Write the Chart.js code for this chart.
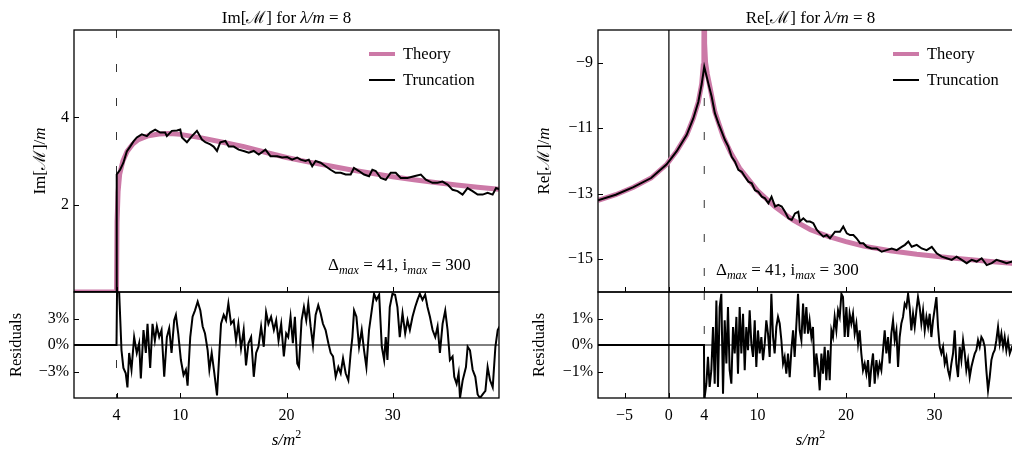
<!DOCTYPE html>
<html>
<head>
<meta charset="utf-8">
<script src="https://cdn.jsdelivr.net/npm/chart.js@4.4.0/dist/chart.umd.min.js"></script>
<style>
  html, body { margin: 0; padding: 0; background: #fff; overflow: hidden; width: 1012px; height: 450px; }
  canvas { position: absolute; top: 0; }
  #imChart { left: 0; }
  #reChart { left: 505px; }
</style>
</head>
<body>
<canvas id="imChart" width="505" height="450"></canvas>
<canvas id="reChart" width="530" height="450"></canvas>
<script>
// ---- data: [s/m^2, value] ----
var imTheory = [[0,0],[4,0],[4.05,1.6],[4.15,2.3],[4.3,2.7],[4.6,3.0],[5,3.22],[5.5,3.38],[6,3.48],[7,3.58],[8,3.62],[9,3.63],[10,3.61],[12,3.53],[14,3.43],[16,3.33],[18,3.2],[20,3.08],[22,2.98],[24,2.89],[26,2.8],[28,2.72],[30,2.64],[32,2.57],[34,2.51],[36,2.45],[38,2.4],[40,2.35]];

var imTrunc = [[0,0],[4,0],[4.02,2.69],[4.34,2.8],[4.65,2.96],[4.97,3.22],[5.28,3.33],[5.6,3.45],[5.91,3.54],[6.38,3.61],[6.86,3.57],[7.17,3.65],[7.64,3.72],[8.11,3.65],[8.58,3.65],[8.74,3.57],[9.21,3.69],[9.69,3.7],[10.0,3.72],[10.16,3.54],[10.63,3.43],[11.1,3.57],[11.57,3.69],[12.04,3.49],[12.36,3.43],[12.83,3.38],[13.14,3.33],[13.46,3.23],[13.77,3.43],[14.25,3.46],[14.56,3.33],[15.03,3.33],[15.5,3.26],[15.97,3.23],[16.45,3.19],[16.92,3.23],[17.39,3.15],[18.02,3.26],[18.49,3.11],[19.12,3.11],[19.59,3.08],[20.06,3.09],[20.53,3.03],[21.0,3.08],[21.32,3.03],[21.79,3.0],[22.1,3.03],[22.42,2.88],[22.74,3.0],[23.21,2.96],[23.68,2.88],[24.15,2.8],[24.62,2.73],[25.1,2.73],[25.57,2.69],[26.04,2.69],[26.35,2.84],[26.82,2.77],[27.3,2.69],[27.77,2.65],[28.08,2.8],[28.4,2.77],[28.87,2.61],[29.34,2.57],[29.81,2.73],[30.28,2.73],[30.75,2.61],[31.38,2.61],[32.01,2.65],[32.64,2.69],[33.11,2.57],[33.74,2.5],[34.21,2.5],[34.68,2.53],[35.16,2.46],[35.63,2.34],[36.1,2.31],[36.57,2.23],[37.04,2.38],[37.51,2.31],[37.99,2.23],[38.46,2.23],[38.93,2.27],[39.4,2.23],[39.72,2.38],[40.19,2.34]];

var imResid = [[0,0],[4,0],[4.05,6],[4.25,6],[4.47,-0.6],[4.65,-2.6],[4.87,-3.2],[5.03,-4.8],[5.19,-0.9],[5.41,-2.8],[5.66,0.9],[5.91,-0.9],[6.13,0.2],[6.29,-3.8],[6.54,1.7],[6.76,-0.9],[6.92,2.4],[7.17,-2.6],[7.39,2.4],[7.61,0.5],[7.8,2.1],[8.02,0.9],[8.24,1.7],[8.49,-3.6],[8.74,0.9],[8.96,1.9],[9.18,-0.9],[9.43,2.8],[9.59,3.4],[9.81,1.3],[10.06,-1.7],[10.31,-3.4],[10.53,-2.8],[10.69,-4.6],[10.94,0.9],[11.16,3.2],[11.38,3.9],[11.64,4.9],[11.89,3.9],[12.11,2.1],[12.33,1.3],[12.58,-0.6],[12.74,-2.8],[12.96,-0.9],[13.21,-3.2],[13.46,-5.7],[13.68,-0.9],[13.84,2.4],[14.09,3.4],[14.31,2.8],[14.53,4.7],[14.78,2.4],[15.03,2.8],[15.25,0.5],[15.47,2.4],[15.72,-0.4],[15.97,1.7],[16.19,-2.3],[16.42,0.2],[16.67,0.9],[16.92,-3.6],[17.14,-0.9],[17.36,-0.2],[17.61,2.1],[17.86,-0.2],[18.08,3.7],[18.3,2.4],[18.55,3.2],[18.81,1.7],[19.03,2.8],[19.25,0.5],[19.5,2.4],[19.75,-1.3],[19.97,1.3],[20.16,0.9],[20.38,3.2],[20.6,0.2],[20.79,3.2],[21.01,-2.1],[21.17,-2.5],[21.42,2.8],[21.64,4.3],[21.86,2.8],[22.05,4.7],[22.27,2.1],[22.49,0],[22.74,3.4],[22.99,4.5],[23.21,3.6],[23.43,2.4],[23.68,1.7],[23.94,0.2],[24.16,-0.9],[24.38,-1.3],[24.63,-3.6],[24.88,-2.5],[25.1,-3.2],[25.32,-1.5],[25.57,-3.2],[25.82,-4.0],[26.04,-0.9],[26.2,0.9],[26.36,3.9],[26.58,3.2],[26.83,-0.2],[27.08,1.7],[27.3,-0.6],[27.52,-2.5],[27.77,1.7],[28.02,3.9],[28.24,5.8],[28.46,5.1],[28.72,5.7],[28.97,-0.2],[29.19,-1.7],[29.34,0.9],[29.5,-1.7],[29.72,4.3],[29.97,5.8],[30.22,5.7],[30.44,4.3],[30.66,0.9],[30.92,3.6],[31.17,1.3],[31.39,2.8],[31.61,1.7],[31.86,3.2],[32.11,4.3],[32.33,5.1],[32.55,5.8],[32.8,5.1],[33.05,5.7],[33.27,4.3],[33.5,3.2],[33.75,1.7],[34.0,0.9],[34.22,2.1],[34.44,-0.9],[34.69,2.4],[34.94,3.9],[35.16,1.7],[35.38,-1.7],[35.63,-1.3],[35.79,-3.6],[36.01,-4.4],[36.2,-3.2],[36.33,-6.0],[36.58,-4.0],[36.89,-2.5],[37.05,-0.2],[37.27,-0.6],[37.52,-2.8],[37.77,-3.6],[37.99,-5.6],[38.21,-6.0],[38.46,-5.6],[38.72,-5.2],[38.93,-2.5],[39.16,-4.0],[39.41,-4.8],[39.66,-0.2],[39.88,1.7],[40.2,2.4]];

var reTheory = [[-8,-13.2],[-6,-13.03],[-4,-12.8],[-2,-12.52],[-0.24,-12.1],[0.89,-11.7],[2.02,-11.2],[2.76,-10.7],[3.33,-10.2],[3.71,-9.65],[3.88,-9.1],[3.96,-8.4],[4,-6],[4.04,-8.4],[4.15,-9.0],[4.35,-9.35],[4.65,-9.75],[5.2,-10.5],[6.15,-11.26],[7,-11.75],[8,-12.22],[10,-12.9],[12,-13.4],[14,-13.8],[16,-14.1],[18,-14.3],[20,-14.46],[22,-14.6],[25,-14.74],[28,-14.85],[32,-14.96],[36,-15.06],[40,-15.15]];

var reTrunc = [[-8,-13.2],[-6,-13.03],[-4,-12.8],[-2,-12.52],[-0.24,-12.1],[0.89,-11.7],[2.02,-11.2],[2.76,-10.7],[3.33,-10.2],[3.71,-9.65],[4.0,-9.12],[4.46,-9.63],[4.84,-10.04],[5.2,-10.54],[5.6,-10.85],[5.97,-11.1],[6.34,-11.36],[6.72,-11.56],[7.1,-11.87],[7.47,-12.02],[7.85,-12.27],[8.23,-12.33],[8.6,-12.48],[8.98,-12.63],[9.36,-12.68],[9.73,-12.89],[10.1,-12.94],[10.5,-13.09],[10.86,-13.14],[11.24,-13.29],[11.6,-13.09],[12.0,-13.39],[12.36,-13.34],[12.75,-13.39],[13.12,-13.55],[13.5,-13.75],[13.88,-13.8],[14.25,-13.6],[14.62,-13.55],[14.8,-13.85],[15.19,-13.75],[15.57,-13.85],[15.94,-13.85],[16.32,-13.9],[16.7,-14.1],[17.07,-14.21],[17.45,-14.31],[17.83,-14.26],[18.2,-14.36],[18.77,-14.16],[19.33,-14.16],[19.7,-14.0],[20.1,-14.21],[20.46,-14.26],[20.84,-14.26],[21.2,-14.36],[21.6,-14.51],[21.97,-14.51],[22.35,-14.62],[22.9,-14.67],[23.48,-14.67],[24.04,-14.77],[24.6,-14.72],[25.17,-14.67],[25.74,-14.72],[26.3,-14.62],[26.67,-14.56],[27.05,-14.46],[27.43,-14.62],[28.0,-14.56],[28.56,-14.67],[29.12,-14.72],[29.7,-14.62],[30.25,-14.82],[30.82,-14.92],[31.38,-14.97],[31.95,-15.02],[32.5,-14.92],[33.08,-15.02],[33.64,-15.12],[34.2,-15.02],[34.77,-15.07],[35.33,-14.97],[35.9,-15.18],[36.47,-15.12],[37.0,-15.02],[37.6,-15.07],[38.15,-15.12],[38.76,-15.07],[40,-15.1]];

var reResid = [[-8,0],[3.97,0],[4.0,-2.0],[4.05,-1.96],[4.24,-1.46],[4.42,-0.45],[4.61,-1.58],[4.8,-0.95],[4.99,0.68],[5.18,-1.46],[5.37,1.68],[5.55,-1.58],[5.74,1.43],[5.93,1.93],[6.12,-1.84],[6.31,0.93],[6.5,-0.7],[6.68,1.43],[6.87,-0.95],[7.06,-1.46],[7.25,0.68],[7.44,-0.32],[7.63,1.06],[7.81,-1.08],[8.0,1.43],[8.19,-0.32],[8.38,1.18],[8.57,-0.95],[8.75,0.68],[8.94,-0.2],[9.13,1.31],[9.32,0.05],[9.51,-0.45],[9.7,0.93],[9.88,-0.83],[10.07,0.55],[10.26,-0.32],[10.45,0.3],[10.64,-0.57],[10.83,0.05],[11.01,0.93],[11.2,0.43],[11.39,-0.45],[11.58,1.93],[11.77,0.3],[11.95,-0.32],[12.14,0.68],[12.33,1.06],[12.52,0.81],[12.71,0.18],[12.9,-0.7],[13.08,-0.45],[13.27,-1.08],[13.46,-0.32],[13.65,-1.21],[13.84,-0.2],[14.03,0.55],[14.21,-0.45],[14.59,1.93],[14.78,0.55],[14.97,0.18],[15.16,1.56],[15.34,0.43],[15.53,1.43],[15.72,0.43],[15.9,0.93],[16.1,0.3],[16.28,0.68],[16.47,-1.21],[16.66,-0.32],[16.85,-0.83],[17.04,-1.71],[17.23,-0.32],[17.41,-1.08],[17.6,-0.07],[17.79,-1.33],[17.98,-0.2],[18.17,-1.33],[18.36,0.55],[18.54,0.3],[18.73,1.06],[18.92,0.55],[19.11,1.31],[19.3,1.06],[19.49,1.93],[19.67,1.81],[19.86,0.3],[20.05,1.43],[20.24,0.3],[20.42,1.18],[20.61,0.81],[20.8,1.18],[20.99,0.43],[21.18,0.81],[21.37,0.05],[21.55,0.55],[21.74,-0.32],[21.93,-0.95],[22.12,-0.7],[22.31,-1.08],[22.5,-0.57],[22.68,-1.58],[22.87,-0.83],[23.06,-0.32],[23.25,-1.46],[23.44,-0.57],[23.63,-1.08],[23.81,-0.7],[24.0,-0.95],[24.19,-0.2],[24.38,0.55],[24.57,-0.32],[24.76,0.3],[24.94,-0.7],[25.13,0.43],[25.32,0.93],[25.51,0.18],[25.7,0.55],[25.89,-0.83],[26.07,0.3],[26.26,0.81],[26.45,1.06],[26.64,1.56],[26.83,1.43],[27.02,1.93],[27.2,1.43],[27.39,0.55],[27.58,1.18],[27.77,0.68],[27.96,1.31],[28.14,1.81],[28.33,1.43],[28.52,0.81],[28.71,1.31],[28.9,0.55],[29.09,1.06],[29.28,0.68],[29.46,1.18],[29.65,0.3],[29.84,0.93],[30.22,1.81],[30.4,0.68],[30.59,-0.07],[30.78,-0.32],[30.97,-0.07],[31.16,-0.7],[31.35,-0.45],[31.53,-0.95],[31.72,-1.21],[31.91,-0.7],[32.1,-0.32],[32.29,0.55],[32.47,-0.7],[32.66,-1.21],[32.85,-0.07],[33.04,-0.57],[33.23,0.18],[33.42,-0.32],[33.6,-0.95],[33.79,-0.57],[33.98,-1.21],[34.17,-0.83],[34.36,-0.57],[34.55,-0.32],[34.73,-0.2],[34.92,0.18],[35.11,-0.07],[35.3,0.3],[35.49,0.18],[35.68,-0.07],[35.86,-0.95],[36.05,-1.71],[36.24,-1.21],[36.43,-0.57],[36.62,-0.32],[36.8,-0.2],[36.99,0.18],[37.18,0.68],[37.37,0.05],[37.56,0.43],[37.75,-0.07],[37.93,0.3],[38.12,-0.2],[38.31,0.18],[38.5,-0.32],[38.76,-0.07],[40,0.1]];

var imXTicks = [4, 10, 20, 30];
var imYTicks = [2, 4];
var imRTicks = [-3, 0, 3];
var reXTicks = [-5, 0, 4, 10, 20, 30];
var reYTicks = [-15, -13, -11, -9];
var reRTicks = [-1, 0, 1];

var PINK = '#cc79a7';
var SERIF = '"Liberation Serif", "DejaVu Serif", serif';

function pts(list) {
  return list.map(function (p) { return { x: p[0], y: p[1] }; });
}
function minus(v) {
  return String(v).replace('-', '\u2212');
}

// rich text: parts are [text, kind]; kind '' upright, 'i' italic, 'sub' small italic lowered, 'sup' small raised
function drawRich(ctx, parts, x, y, size, opts) {
  opts = opts || {};
  function font(k) {
    if (k === 'i') return 'italic ' + size + 'px ' + SERIF;
    if (k === 'sub') return 'italic ' + Math.round(size * 0.72) + 'px ' + SERIF;
    if (k === 'sup') return Math.round(size * 0.72) + 'px ' + SERIF;
    return size + 'px ' + SERIF;
  }
  var w = 0;
  parts.forEach(function (p) { ctx.font = font(p[1]); w += ctx.measureText(p[0]).width; });
  ctx.save();
  ctx.translate(x, y);
  if (opts.rotate) ctx.rotate(-Math.PI / 2);
  ctx.fillStyle = '#000';
  ctx.textAlign = 'left';
  ctx.textBaseline = 'middle';
  var px = opts.left ? 0 : -w / 2;
  parts.forEach(function (p) {
    ctx.font = font(p[1]);
    var dy = p[1] === 'sub' ? size * 0.3 : (p[1] === 'sup' ? -size * 0.35 : 0);
    ctx.fillText(p[0], px, dy);
    px += ctx.measureText(p[0]).width;
  });
  ctx.restore();
}

var panelPlugin = {
  id: 'panel',
  afterDraw: function (chart, args, o) {
    var ctx = chart.ctx;
    var x = chart.scales.x, m = chart.scales.y, r = chart.scales.yRes;
    ctx.save();
    ctx.strokeStyle = '#000';
    ctx.lineWidth = 1.3;
    ctx.strokeRect(x.left, m.top, x.right - x.left, m.bottom - m.top);
    ctx.strokeRect(x.left, r.top, x.right - x.left, r.bottom - r.top);

    // inward tick marks
    ctx.lineWidth = 1;
    ctx.beginPath();
    x.ticks.forEach(function (t) {
      var px = Math.round(x.getPixelForValue(t.value)) + 0.5;
      ctx.moveTo(px, m.bottom); ctx.lineTo(px, m.bottom - 5);
      ctx.moveTo(px, r.bottom); ctx.lineTo(px, r.bottom - 5);
    });
    [m, r].forEach(function (s) {
      s.ticks.forEach(function (t) {
        var py = Math.round(s.getPixelForValue(t.value)) + 0.5;
        ctx.moveTo(x.left, py); ctx.lineTo(x.left + 5, py);
      });
    });
    ctx.stroke();

    // legend
    var lx = x.left + 295;
    ctx.lineCap = 'butt';
    ctx.strokeStyle = PINK; ctx.lineWidth = 4;
    ctx.beginPath(); ctx.moveTo(lx, 54); ctx.lineTo(lx + 26, 54); ctx.stroke();
    ctx.strokeStyle = '#000'; ctx.lineWidth = 2;
    ctx.beginPath(); ctx.moveTo(lx, 80); ctx.lineTo(lx + 26, 80); ctx.stroke();
    ctx.restore();
    drawRich(ctx, [['Theory', '']], lx + 34, 55, 16.5, { left: true });
    drawRich(ctx, [['Truncation', '']], lx + 34, 81, 16.5, { left: true });

    var cx = x.left + 212.5;
    drawRich(ctx, o.title, cx, 19, 17);
    drawRich(ctx, [['s/m', 'i'], ['2', 'sup']], cx, 441, 17);
    drawRich(ctx, o.ylabel, x.left - o.yOff, (m.top + m.bottom) / 2, 17, { rotate: true });
    drawRich(ctx, [['Residuals', '']], x.left - o.rOff, (r.top + r.bottom) / 2, 16.5, { rotate: true });
    drawRich(ctx, [['\u0394', ''], ['max', 'sub'], [' = 41, i', ''], ['max', 'sub'], [' = 300', '']],
      x.left + o.noteX, o.noteY, 17, { left: true });
  }
};

// each dataset is clipped to the area of its own axis pair
function vline(xv, y0, y1, axis, dash, color) {
  return {
    data: [{ x: xv, y: y1 }, { x: xv, y: y0 }], yAxisID: axis,
    borderColor: color, borderWidth: 1, borderDash: dash, pointRadius: 0,
    order: 3, clip: 0
  };
}

function makeChart(id, cfg) {
  var datasets = [
    { data: pts(cfg.trunc), yAxisID: 'y', borderColor: '#000', borderWidth: 2, pointRadius: 0, order: 1, clip: 0 },
    { data: pts(cfg.theory), yAxisID: 'y', borderColor: PINK, borderWidth: 5, pointRadius: 0, order: 2, clip: 0 },
    { data: pts(cfg.resid), yAxisID: 'yRes', borderColor: '#000', borderWidth: 2, pointRadius: 0, order: 1, clip: 0 },
    { data: [{ x: cfg.xMin, y: 0 }, { x: cfg.xMax, y: 0 }], yAxisID: 'yRes', borderColor: '#000', borderWidth: 1, pointRadius: 0, order: 3, clip: 0 },
    vline(4, cfg.yMin, cfg.yMax, 'y', [8, 26], '#333'),
    vline(4, -cfg.rMax, cfg.rMax, 'yRes', [8, 26], '#333')
  ];
  if (cfg.zeroLine) {
    datasets.push(vline(0, cfg.yMin, cfg.yMax, 'y', [], '#444'));
    datasets.push(vline(0, -cfg.rMax, cfg.rMax, 'yRes', [], '#444'));
  }
  var tickFont = { family: SERIF, size: 16 };
  function setTicks(list) {
    return function (s) { s.ticks = list.map(function (v) { return { value: v }; }); };
  }
  return new Chart(document.getElementById(id), {
    type: 'line',
    data: { datasets: datasets },
    plugins: [panelPlugin],
    options: {
      responsive: false,
      animation: false,
      events: [],
      layout: { padding: { left: 0, top: 30, right: cfg.padRight, bottom: 0 } },
      elements: { line: { tension: 0 } },
      plugins: {
        legend: { display: false },
        tooltip: { enabled: false },
        panel: cfg.panel
      },
      scales: {
        // residual axis listed first so that it is stacked below the main axis
        yRes: {
          axis: 'y', type: 'linear', position: 'left', stack: 'panel', stackWeight: 106,
          min: -cfg.rMax, max: cfg.rMax,
          grid: { display: false, drawTicks: false }, border: { display: false },
          ticks: { autoSkip: false, padding: 5, color: '#000', font: tickFont,
            callback: function (v) { return minus(v) + '%'; } },
          afterBuildTicks: setTicks(cfg.rTicks),
          afterFit: function (s) { s.width = cfg.axisW; }
        },
        y: {
          axis: 'y', type: 'linear', position: 'left', stack: 'panel', stackWeight: 262,
          min: cfg.yMin, max: cfg.yMax,
          grid: { display: false, drawTicks: false }, border: { display: false },
          ticks: { autoSkip: false, padding: 5, color: '#000', font: tickFont, callback: minus },
          afterBuildTicks: setTicks(cfg.yTicks),
          afterFit: function (s) { s.width = cfg.axisW; }
        },
        x: {
          type: 'linear', min: cfg.xMin, max: cfg.xMax,
          grid: { display: false, drawTicks: false }, border: { display: false },
          ticks: { autoSkip: false, padding: 8, color: '#000', font: tickFont, maxRotation: 0, callback: minus },
          afterBuildTicks: setTicks(cfg.xTicks),
          afterFit: function (s) { s.height = 52; }
        }
      }
    }
  });
}

makeChart('imChart', {
  trunc: imTrunc, theory: imTheory, resid: imResid,
  xMin: 0, xMax: 40, yMin: 0, yMax: 6, rMax: 6,
  xTicks: imXTicks, yTicks: imYTicks, rTicks: imRTicks,
  axisW: 74, padRight: 6, zeroLine: false,
  panel: {
    title: [['Im[', ''], ['\u2133', ''], ['] for ', ''], ['\u03bb/m', 'i'], [' = 8', '']],
    ylabel: [['Im[', ''], ['\u2133', ''], [']/', ''], ['m', 'i']],
    yOff: 33, rOff: 57, noteX: 254, noteY: 266
  }
});

makeChart('reChart', {
  trunc: reTrunc, theory: reTheory, resid: reResid,
  xMin: -8, xMax: 40, yMin: -16, yMax: -8, rMax: 2,
  xTicks: reXTicks, yTicks: reYTicks, rTicks: reRTicks,
  axisW: 93, padRight: 12, zeroLine: true,
  panel: {
    title: [['Re[', ''], ['\u2133', ''], ['] for ', ''], ['\u03bb/m', 'i'], [' = 8', '']],
    ylabel: [['Re[', ''], ['\u2133', ''], [']/', ''], ['m', 'i']],
    yOff: 53, rOff: 58, noteX: 118, noteY: 271
  }
});
</script>
</body>
</html>
